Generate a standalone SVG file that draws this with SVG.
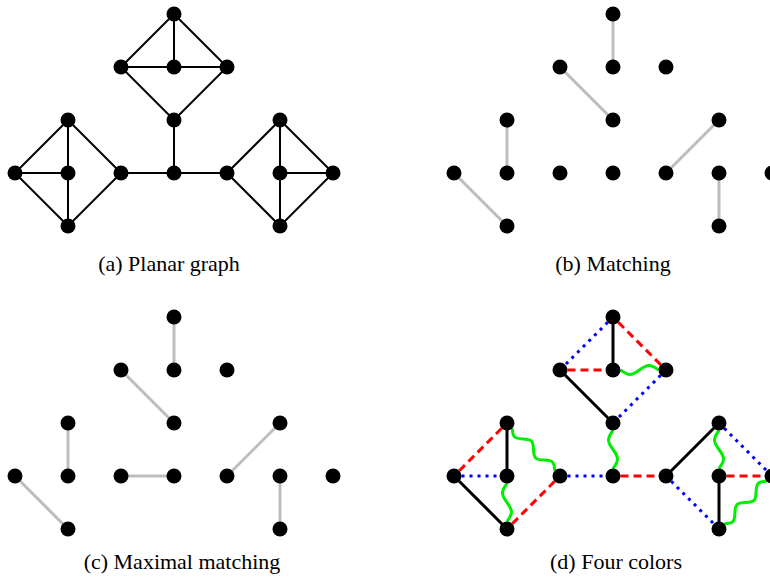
<svg xmlns="http://www.w3.org/2000/svg" xmlns:xlink="http://www.w3.org/1999/xlink" width="770" height="578" viewBox="0 0 770 578">
<style>
.n{fill:#000}
.e{stroke:#000;stroke-width:2;fill:none}
.m{stroke:#bdbdbd;stroke-width:3;fill:none}
.k{stroke:#000;stroke-width:3;fill:none}
.r{stroke:#ff0000;stroke-width:3;fill:none;stroke-dasharray:8 5}
.b{stroke:#0000ff;stroke-width:3;fill:none;stroke-dasharray:3 5}
.g{stroke:#00ee00;stroke-width:3;fill:none}
.cap{font-family:"Liberation Serif","Times New Roman",serif;font-size:22px;text-anchor:middle;fill:#000}
</style>
<defs>
<path id="ws" d="M7.5,0 C15.56,6 18.44,6 26.5,0 S37.44,-6 45.5,0"/>
<path id="wl" d="M7.5,0 C13.86,6 16.13,6 22.49,0 S31.12,-6 37.48,0 S46.11,6 52.47,0 S61.09,-6 67.45,0"/>
</defs>
<g id="connectors">
<g id="edges-a">
<line class="e" x1="174" y1="14" x2="121" y2="67"/>
<line class="e" x1="174" y1="14" x2="174" y2="67"/>
<line class="e" x1="174" y1="14" x2="227" y2="67"/>
<line class="e" x1="121" y1="67" x2="227" y2="67"/>
<line class="e" x1="121" y1="67" x2="174" y2="120"/>
<line class="e" x1="227" y1="67" x2="174" y2="120"/>
<line class="e" x1="174" y1="120" x2="174" y2="173"/>
<line class="e" x1="121" y1="173" x2="227" y2="173"/>
<line class="e" x1="68" y1="120" x2="15" y2="173"/>
<line class="e" x1="68" y1="120" x2="68" y2="226"/>
<line class="e" x1="68" y1="120" x2="121" y2="173"/>
<line class="e" x1="15" y1="173" x2="68" y2="173"/>
<line class="e" x1="15" y1="173" x2="68" y2="226"/>
<line class="e" x1="121" y1="173" x2="68" y2="226"/>
<line class="e" x1="280" y1="120" x2="227" y2="173"/>
<line class="e" x1="280" y1="120" x2="280" y2="226"/>
<line class="e" x1="280" y1="120" x2="333" y2="173"/>
<line class="e" x1="280" y1="173" x2="333" y2="173"/>
<line class="e" x1="227" y1="173" x2="280" y2="226"/>
<line class="e" x1="333" y1="173" x2="280" y2="226"/>
</g>
<g id="edges-b">
<line class="m" x1="613" y1="14" x2="613" y2="67"/>
<line class="m" x1="560" y1="67" x2="613" y2="120"/>
<line class="m" x1="507" y1="120" x2="507" y2="173"/>
<line class="m" x1="454" y1="173" x2="507" y2="226"/>
<line class="m" x1="666" y1="173" x2="719" y2="120"/>
<line class="m" x1="719" y1="173" x2="719" y2="226"/>
</g>
<g id="edges-c">
<line class="m" x1="174" y1="317" x2="174" y2="370"/>
<line class="m" x1="121" y1="370" x2="174" y2="423"/>
<line class="m" x1="68" y1="423" x2="68" y2="476"/>
<line class="m" x1="15" y1="476" x2="68" y2="529"/>
<line class="m" x1="227" y1="476" x2="280" y2="423"/>
<line class="m" x1="280" y1="476" x2="280" y2="529"/>
<line class="m" x1="121" y1="476" x2="174" y2="476"/>
</g>
<g id="edges-d">
<line class="k" x1="613" y1="317" x2="613" y2="370"/>
<line class="k" x1="560" y1="370" x2="613" y2="423"/>
<line class="k" x1="507" y1="423" x2="507" y2="476"/>
<line class="k" x1="454" y1="476" x2="507" y2="529"/>
<line class="k" x1="666" y1="476" x2="719" y2="423"/>
<line class="k" x1="719" y1="476" x2="719" y2="529"/>
<line class="b" x1="607.7" y1="322.3" x2="565.3" y2="364.7"/>
<line class="r" x1="618.3" y1="322.3" x2="660.7" y2="364.7"/>
<line class="r" x1="567.5" y1="370" x2="605.5" y2="370"/>
<line class="b" x1="660.7" y1="375.3" x2="618.3" y2="417.7"/>
<line class="r" x1="501.7" y1="428.3" x2="459.3" y2="470.7"/>
<line class="b" x1="461.5" y1="476" x2="499.5" y2="476"/>
<line class="r" x1="554.7" y1="481.3" x2="512.3" y2="523.7"/>
<line class="b" x1="567.5" y1="476" x2="605.5" y2="476"/>
<line class="r" x1="620.5" y1="476" x2="658.5" y2="476"/>
<line class="b" x1="671.3" y1="481.3" x2="713.7" y2="523.7"/>
<line class="b" x1="724.3" y1="428.3" x2="766.7" y2="470.7"/>
<line class="r" x1="726.5" y1="476" x2="764.5" y2="476"/>
<use href="#ws" class="g" transform="translate(613,370)"/>
<use href="#ws" class="g" transform="translate(613,423) rotate(90)"/>
<use href="#ws" class="g" transform="translate(507,476) rotate(90)"/>
<use href="#ws" class="g" transform="translate(719,423) rotate(90)"/>
<use href="#wl" class="g" transform="translate(507,423) rotate(45)"/>
<use href="#wl" class="g" transform="translate(772,476) rotate(135)"/>
</g>
</g>
<g id="nodes-a">
<g id="a1"><circle class="n" cx="174" cy="14" r="7.5"/></g>
<g id="a2"><circle class="n" cx="121" cy="67" r="7.5"/></g>
<g id="a3"><circle class="n" cx="174" cy="67" r="7.5"/></g>
<g id="a4"><circle class="n" cx="227" cy="67" r="7.5"/></g>
<g id="a5"><circle class="n" cx="174" cy="120" r="7.5"/></g>
<g id="a6"><circle class="n" cx="68" cy="120" r="7.5"/></g>
<g id="a7"><circle class="n" cx="15" cy="173" r="7.5"/></g>
<g id="a8"><circle class="n" cx="68" cy="173" r="7.5"/></g>
<g id="a9"><circle class="n" cx="121" cy="173" r="7.5"/></g>
<g id="a10"><circle class="n" cx="68" cy="226" r="7.5"/></g>
<g id="a11"><circle class="n" cx="174" cy="173" r="7.5"/></g>
<g id="a12"><circle class="n" cx="227" cy="173" r="7.5"/></g>
<g id="a13"><circle class="n" cx="280" cy="120" r="7.5"/></g>
<g id="a14"><circle class="n" cx="280" cy="173" r="7.5"/></g>
<g id="a15"><circle class="n" cx="333" cy="173" r="7.5"/></g>
<g id="a16"><circle class="n" cx="280" cy="226" r="7.5"/></g>
</g>
<g id="nodes-b">
<g id="b1"><circle class="n" cx="613" cy="14" r="7.5"/></g>
<g id="b2"><circle class="n" cx="560" cy="67" r="7.5"/></g>
<g id="b3"><circle class="n" cx="613" cy="67" r="7.5"/></g>
<g id="b4"><circle class="n" cx="666" cy="67" r="7.5"/></g>
<g id="b5"><circle class="n" cx="613" cy="120" r="7.5"/></g>
<g id="b6"><circle class="n" cx="507" cy="120" r="7.5"/></g>
<g id="b7"><circle class="n" cx="454" cy="173" r="7.5"/></g>
<g id="b8"><circle class="n" cx="507" cy="173" r="7.5"/></g>
<g id="b9"><circle class="n" cx="560" cy="173" r="7.5"/></g>
<g id="b10"><circle class="n" cx="507" cy="226" r="7.5"/></g>
<g id="b11"><circle class="n" cx="613" cy="173" r="7.5"/></g>
<g id="b12"><circle class="n" cx="666" cy="173" r="7.5"/></g>
<g id="b13"><circle class="n" cx="719" cy="120" r="7.5"/></g>
<g id="b14"><circle class="n" cx="719" cy="173" r="7.5"/></g>
<g id="b15"><circle class="n" cx="772" cy="173" r="7.5"/></g>
<g id="b16"><circle class="n" cx="719" cy="226" r="7.5"/></g>
</g>
<g id="nodes-c">
<g id="c1"><circle class="n" cx="174" cy="317" r="7.5"/></g>
<g id="c2"><circle class="n" cx="121" cy="370" r="7.5"/></g>
<g id="c3"><circle class="n" cx="174" cy="370" r="7.5"/></g>
<g id="c4"><circle class="n" cx="227" cy="370" r="7.5"/></g>
<g id="c5"><circle class="n" cx="174" cy="423" r="7.5"/></g>
<g id="c6"><circle class="n" cx="68" cy="423" r="7.5"/></g>
<g id="c7"><circle class="n" cx="15" cy="476" r="7.5"/></g>
<g id="c8"><circle class="n" cx="68" cy="476" r="7.5"/></g>
<g id="c9"><circle class="n" cx="121" cy="476" r="7.5"/></g>
<g id="c10"><circle class="n" cx="68" cy="529" r="7.5"/></g>
<g id="c11"><circle class="n" cx="174" cy="476" r="7.5"/></g>
<g id="c12"><circle class="n" cx="227" cy="476" r="7.5"/></g>
<g id="c13"><circle class="n" cx="280" cy="423" r="7.5"/></g>
<g id="c14"><circle class="n" cx="280" cy="476" r="7.5"/></g>
<g id="c15"><circle class="n" cx="333" cy="476" r="7.5"/></g>
<g id="c16"><circle class="n" cx="280" cy="529" r="7.5"/></g>
</g>
<g id="nodes-d">
<g id="d1"><circle class="n" cx="613" cy="317" r="7.5"/></g>
<g id="d2"><circle class="n" cx="560" cy="370" r="7.5"/></g>
<g id="d3"><circle class="n" cx="613" cy="370" r="7.5"/></g>
<g id="d4"><circle class="n" cx="666" cy="370" r="7.5"/></g>
<g id="d5"><circle class="n" cx="613" cy="423" r="7.5"/></g>
<g id="d6"><circle class="n" cx="507" cy="423" r="7.5"/></g>
<g id="d7"><circle class="n" cx="454" cy="476" r="7.5"/></g>
<g id="d8"><circle class="n" cx="507" cy="476" r="7.5"/></g>
<g id="d9"><circle class="n" cx="560" cy="476" r="7.5"/></g>
<g id="d10"><circle class="n" cx="507" cy="529" r="7.5"/></g>
<g id="d11"><circle class="n" cx="613" cy="476" r="7.5"/></g>
<g id="d12"><circle class="n" cx="666" cy="476" r="7.5"/></g>
<g id="d13"><circle class="n" cx="719" cy="423" r="7.5"/></g>
<g id="d14"><circle class="n" cx="719" cy="476" r="7.5"/></g>
<g id="d15"><circle class="n" cx="772" cy="476" r="7.5"/></g>
<g id="d16"><circle class="n" cx="719" cy="529" r="7.5"/></g>
</g>
<g id="captions">
<text class="cap" x="169" y="271">(a) Planar graph</text>
<text class="cap" x="613" y="271">(b) Matching</text>
<text class="cap" x="182" y="569">(c) Maximal matching</text>
<text class="cap" x="616" y="569">(d) Four colors</text>
</g>
</svg>
